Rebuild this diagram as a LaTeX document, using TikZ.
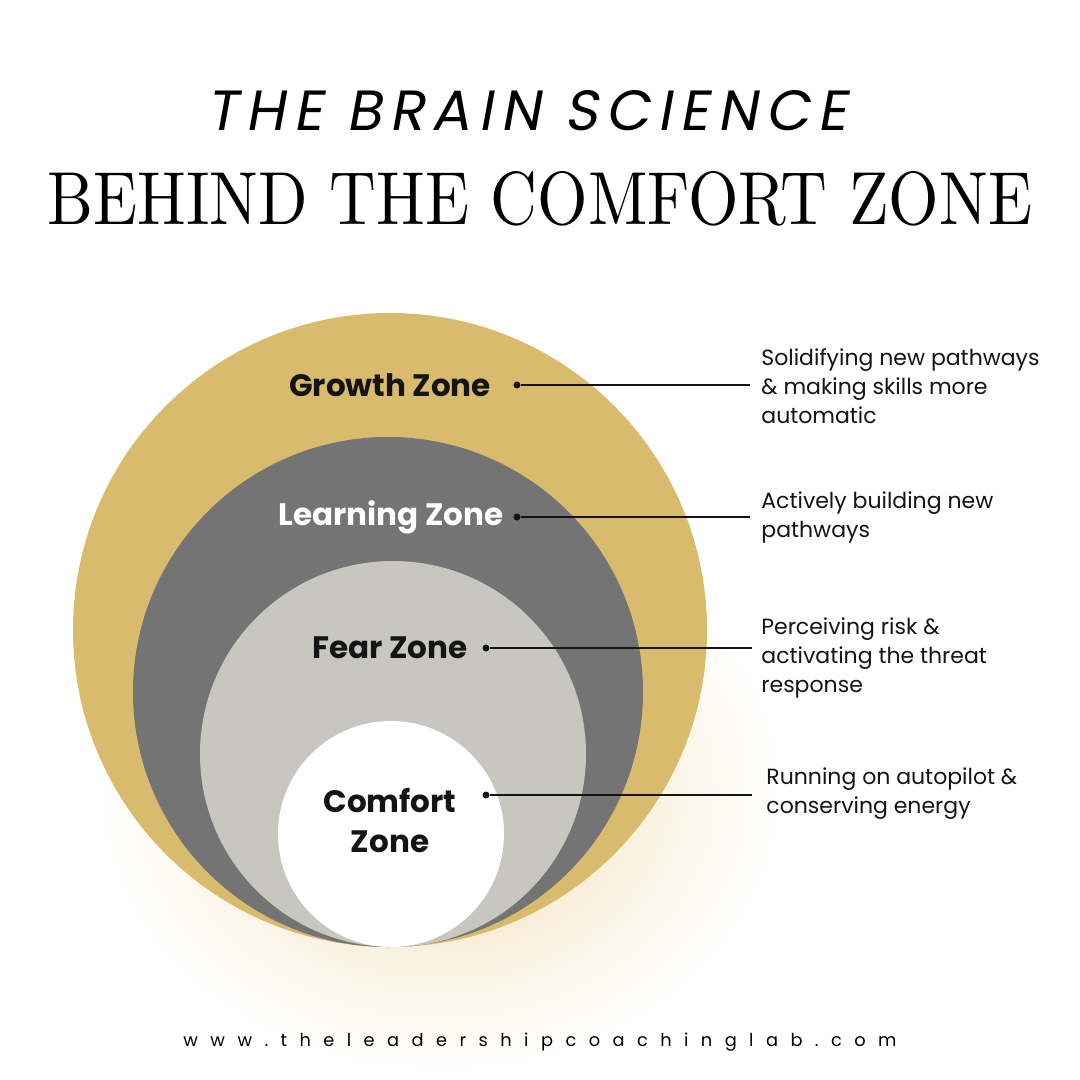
\documentclass[tikz,border=0pt]{standalone}
\usepackage{fontspec}
\usepackage{graphicx}
\setmainfont{Poppins}
\newfontfamily\headfont{Poppins}[FakeSlant=0.18, LetterSpace=14]
\newfontfamily\urlfont{Poppins}[LetterSpace=70]
\newfontfamily\didone{Latin Modern Roman}
\usetikzlibrary{positioning}

\definecolor{gold}{RGB}{217,187,110}
\definecolor{slate}{RGB}{116,116,116}
\definecolor{stone}{RGB}{199,198,193}
\definecolor{glow}{RGB}{240,222,176}
\definecolor{ink}{RGB}{20,20,20}

\begin{document}
\begin{tikzpicture}[x=1pt, y=-1pt, thick]
  \tikzstyle{zonelabel} = [font=\fontsize{31}{40}\selectfont\bfseries, align=center, text=ink]
  \tikzstyle{desc} = [font=\fontsize{22}{29}\selectfont, align=left, anchor=west, inner sep=0pt, text=ink]
  \tikzstyle{dot} = [circle, fill=ink, inner sep=0pt, minimum size=7pt]
  \tikzstyle{link} = [draw=ink, line width=1.6pt]

  % page
  \useasboundingbox (0,0) rectangle (1080,1080);
  \fill[white] (0,0) rectangle (1080,1080);

  % titles
  \node (title) at (527,111) {\resizebox{640pt}{40pt}{\headfont THE BRAIN SCIENCE}};
  \node (subtitle) at (540,199) {\resizebox{984pt}{53pt}{\didone BEHIND THE COMFORT ZONE}};

  % soft glow under the circles
  \shade[inner color=glow, outer color=white] (440,790) ellipse (340 and 280);

  % zones
  \fill[gold] (390,630) circle (317);
  \fill[slate] (388,692) circle (255);
  \fill[stone] (393,754) circle (193);
  \fill[white] (391,834) circle (113);

  % zone names
  \node[zonelabel] (growth) at (390,385) {Growth Zone};
  \node[zonelabel, text=white] (learning) at (391,517) {Learning Zone};
  \node[zonelabel] (fear) at (390,648) {Fear Zone};
  \node[zonelabel] (comfort) at (390,820) {Comfort\\Zone};

  % dots and connectors
  \node[dot] (gdot) at (517,385) {};
  \node[dot] (ldot) at (517,517) {};
  \node[dot] (fdot) at (486,648) {};
  \node[dot] (cdot) at (486,795) {};
  \coordinate (gend) at (750,385);
  \coordinate (lend) at (750,517);
  \coordinate (fend) at (752,648);
  \coordinate (cend) at (752,795);
  \path[link] (gdot) -- (gend);
  \path[link] (ldot) -- (lend);
  \path[link] (fdot) -- (fend);
  \path[link] (cdot) -- (cend);

  % descriptions
  \node[desc] (gtext) at (761,386) {Solidifying new pathways\\\& making skills more\\automatic};
  \node[desc] (ltext) at (761,517) {Actively building new\\pathways};
  \node[desc] (ftext) at (761,658) {Perceiving risk \&\\activating the threat\\response};
  \node[desc] (ctext) at (766,794) {Running on autopilot \&\\conserving energy};

  % footer
  \node (url) at (540,1042) {\resizebox{713pt}{!}{\urlfont www.theleadershipcoachinglab.com}};
\end{tikzpicture}
\end{document}
